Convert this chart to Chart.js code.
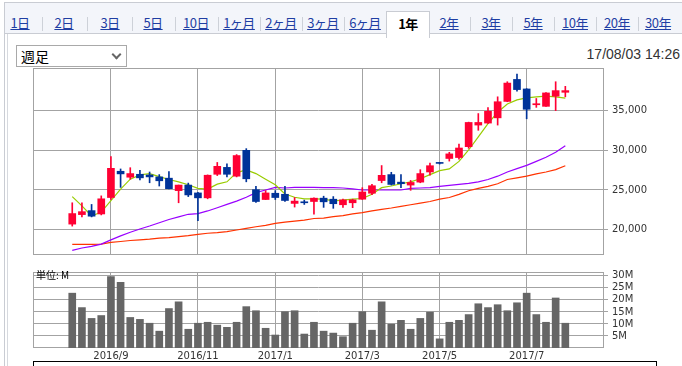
<!DOCTYPE html>
<html><head><meta charset="utf-8">
<script src="https://cdn.jsdelivr.net/npm/chart.js@4.4.1/dist/chart.umd.min.js"></script>
<style>
html,body{margin:0;padding:0;width:682px;height:366px;overflow:hidden;background:#fff;font-family:"Liberation Sans",Arial,sans-serif;}
#frame{position:absolute;left:4px;top:2px;width:700px;height:400px;border-left:1px solid #c9ccd3;border-top:1px solid #c9ccd3;}
#inner{position:absolute;left:7px;top:34px;width:2px;height:340px;border-left:1px solid #d6d9de;}
#tabbar{position:absolute;left:5px;top:3px;width:680px;height:30px;background:#f3f5fa;border-bottom:1px solid #c9ccd3;}
.tab{position:absolute;top:8px;height:25px;width:42px;text-align:center;line-height:24px;font-family:"Noto Sans CJK JP",sans-serif;font-size:13px;color:#1f3ea3;text-decoration:underline;letter-spacing:-0.5px;}
.sep{position:absolute;top:14px;height:14px;width:1px;background:#cdd1d8;}
.tab.active{background:#fff;border:1px solid #c9ccd3;border-bottom:none;height:26px;color:#000;font-weight:bold;text-decoration:none;}
#sel{position:absolute;left:16px;top:45px;width:109px;height:20px;border:1px solid #a9a9a9;background:#fff;font-family:"Noto Sans CJK JP",sans-serif;font-size:14px;line-height:20px;color:#000;}
#sel span{position:absolute;left:4px;top:0;}
#chev{position:absolute;right:6px;top:5px;width:5px;height:5px;border-right:2px solid #666;border-bottom:2px solid #666;transform:rotate(45deg);}
#stamp{position:absolute;right:2px;top:45px;font-size:14px;color:#333;line-height:18px;}
#unit{position:absolute;left:36px;top:268px;font-family:"Noto Sans CJK JP",sans-serif;font-size:10px;color:#000;line-height:14px;}
#legbox{position:absolute;left:33px;top:361px;width:622px;height:30px;border:1px solid #000;}
canvas{position:absolute;left:0;}
#main{top:58px;}
#vol{top:262px;}
</style></head>
<body>
<div id="frame"></div>
<div id="tabbar"></div>
<div id="inner"></div>
<div id="sel"><span>週足</span><div id="chev"></div></div>
<div id="stamp">17/08/03 14:26</div>
<canvas id="main" width="682" height="207"></canvas>
<canvas id="vol" width="682" height="104"></canvas>
<div id="unit">単位: M</div>
<div id="legbox"></div>
<script>
// ---- data ----
const periodTabs = ['1日','2日','3日','5日','10日','1ヶ月','2ヶ月','3ヶ月','6ヶ月','1年','2年','3年','5年','10年','20年','30年'];
const activeTab = '1年';
const weeks = ['2016/8/8','2016/8/15','2016/8/22','2016/8/29','2016/9/5','2016/9/12','2016/9/19','2016/9/26','2016/10/3','2016/10/10','2016/10/17','2016/10/24','2016/10/31','2016/11/7','2016/11/14','2016/11/21','2016/11/28','2016/12/5','2016/12/12','2016/12/19','2016/12/26','2017/1/2','2017/1/9','2017/1/16','2017/1/23','2017/1/30','2017/2/6','2017/2/13','2017/2/20','2017/2/27','2017/3/6','2017/3/13','2017/3/20','2017/3/27','2017/4/3','2017/4/10','2017/4/17','2017/4/24','2017/5/1','2017/5/8','2017/5/15','2017/5/22','2017/5/29','2017/6/5','2017/6/12','2017/6/19','2017/6/26','2017/7/3','2017/7/10','2017/7/17','2017/7/24','2017/7/31'];
const open  = [20700,21900,22400,21980,24050,27360,26610,26980,26900,26650,26490,24920,25620,24630,24010,26980,27850,26740,30000,25040,23800,24590,24460,23310,23470,23550,23970,23840,23140,23390,23840,24590,26190,26940,25990,25620,25990,27270,28430,28970,29090,30460,33180,33430,34090,36160,38930,37730,35740,35540,36820,37310];
const high  = [23390,23390,23180,24260,29220,27650,27810,27480,27270,26940,27320,25620,25870,24710,26900,28470,28310,29460,30210,25460,24920,24920,25460,24050,23720,24010,24220,24170,23840,23840,25290,25700,28080,27230,26940,26200,27560,28390,28470,29750,30790,33550,34630,35370,36740,38640,39590,37770,36530,37270,38640,38060];
const low   = [20450,21610,21610,21860,23800,25330,26360,26280,25910,25500,25120,23390,24170,21120,23890,26820,26650,26650,26030,23430,23800,23800,23550,22850,23180,21940,22810,22690,22810,22770,23800,24420,25910,25620,25290,24960,25910,26860,28270,28640,28890,30250,32520,33390,33180,36120,37440,33970,35410,35540,35000,36740];
const close = [22030,22270,21700,23890,27730,27030,27070,26530,26650,26160,25170,25620,24380,24010,26860,27980,26980,29340,26410,23550,24630,24050,23680,23600,23390,23970,23510,23270,23760,23760,24750,25540,26850,25700,25790,25950,27070,28060,28350,29550,30290,33510,33510,34920,36120,38470,37650,35170,35870,37230,37520,37520];
const ma13 = [24170,23000,21720,22220,23660,25120,26360,26900,27070,26690,26320,26030,25660,25210,25120,25740,26030,27190,27520,27070,26360,25660,24500,24090,23890,23890,23840,23640,23720,23840,23930,24460,25290,25500,25790,26030,26410,26940,27440,27650,28600,30040,31690,33350,34790,35830,36360,36610,36740,36820,36740,36570];
const ma26 = [17400,17690,17890,18180,18720,19220,19670,20080,20460,20870,21280,21610,21940,22030,22360,22770,23180,23600,24090,24670,25000,25330,25250,25330,25330,25330,25290,25290,25250,25150,25000,25000,25000,25000,25000,25200,25250,25300,25450,25580,25700,25830,26030,26320,26740,27270,27690,28100,28600,29130,29750,30580];
const ma52 = [18150,18150,18150,18180,18390,18510,18640,18720,18800,18930,19010,19130,19260,19420,19550,19630,19750,19960,20170,20370,20540,20790,20950,21080,21200,21410,21450,21650,21780,21980,22150,22360,22560,22730,22930,23140,23350,23550,23840,24050,24450,24900,25210,25460,25790,26320,26530,26740,27030,27270,27560,28060];
const volumeM = [22.8,16.8,12.3,13.5,29.7,27.3,12.7,11.9,10.3,7.0,16.4,19.2,7.8,10.3,10.7,9.5,8.6,10.7,17.2,15.5,8.2,5.4,15.1,15.5,5.8,10.7,7.0,6.2,4.7,10.3,15.1,7.4,19.2,9.9,11.5,7.8,12.3,14.9,3.8,10.7,11.5,13.9,18.4,16.8,18.0,15.5,18.8,22.8,13.9,10.7,20.8,10.3];
const monthTickIndex = [4,13,21,30,38,47];
const monthTickLabels = ['2016/9','2016/11','2017/1','2017/3','2017/5','2017/7'];
const priceTicks = [20000,25000,30000,35000];
const volumeTicks = [5,10,15,20,25,30];

// ---- tabs ----
const tabCenters = [20,64,110,153,196,239,281,323,365,407,449,491,533,575,617,658];
const bar = document.getElementById('tabbar');
periodTabs.forEach((t,i)=>{
  const d=document.createElement('div');
  d.className='tab'+(t===activeTab?' active':'');
  d.style.left=(tabCenters[i]-5-21)+'px';
  d.textContent=t;
  bar.appendChild(d);
  if(i>0 && t!==activeTab && periodTabs[i-1]!==activeTab){
    const s=document.createElement('div');s.className='sep';s.style.left=Math.round((tabCenters[i]+tabCenters[i-1])/2-5)+'px';bar.appendChild(s);
  }
});

// ---- charts ----
const UP='#ff0033', DOWN='#003399', GRID='#a3a3a3';
const frameRect={id:'frameRect',beforeDatasetsDraw(c){const a=c.chartArea,x=c.ctx;x.save();x.strokeStyle=GRID;x.lineWidth=1;x.strokeRect(Math.round(a.left)+0.5,Math.round(a.top)+0.5,Math.round(a.right-a.left)-1,Math.round(a.bottom-a.top)-1);x.restore();}};
const idx = weeks.map((w,i)=>i);
const candleColor = ctx => { const i=ctx.dataIndex; return close[i]>=open[i]?UP:DOWN; };
const xScale = (showLabels,h)=>({type:'linear',min:-4.06,max:55.0,offset:false,
  afterBuildTicks(s){s.ticks=monthTickIndex.map(v=>({value:v}));},
  afterFit(s){s.height=h;},
  grid:{color:GRID,drawTicks:false,lineWidth:1,offset:false},border:{display:false},
  ticks:{display:showLabels,autoSkip:false,maxRotation:0,padding:2,color:'#333',font:{family:'DejaVu Sans',size:10},
    callback:(v)=>{const k=monthTickIndex.indexOf(v);return k>=0?monthTickLabels[k]:'';}}});

new Chart(document.getElementById('main'),{
  type:'bar',
  data:{datasets:[
    {type:'line',label:'13週',data:idx.map(i=>({x:i,y:ma13[i]})),borderColor:'#99cc00',borderWidth:1.2,pointRadius:0,order:5},
    {type:'line',label:'26週',data:idx.map(i=>({x:i,y:ma26[i]})),borderColor:'#9900ff',borderWidth:1.2,pointRadius:0,order:6},
    {type:'line',label:'52週',data:idx.map(i=>({x:i,y:ma52[i]})),borderColor:'#ff3300',borderWidth:1.2,pointRadius:0,order:7},
    {label:'wick',data:idx.map(i=>({x:i,y:[low[i],high[i]]})),backgroundColor:candleColor,barThickness:1,grouped:false,order:2},
    {label:'body',data:idx.map(i=>({x:i,y:[open[i],close[i]]})),backgroundColor:candleColor,barThickness:7,minBarLength:1,grouped:false,order:1}
  ]},
  options:{responsive:false,animation:false,devicePixelRatio:1,
    layout:{padding:{left:33,top:9,bottom:8,right:0}},
    plugins:{legend:{display:false},tooltip:{enabled:false}},
    scales:{
      x:xScale(false,0),
      y:{type:'linear',position:'right',min:16810,max:40370,
        afterBuildTicks(s){s.ticks=priceTicks.map(v=>({value:v}));},
        afterFit(s){s.width=78;},
        grid:{color:GRID,tickLength:4},border:{display:false},
        ticks:{padding:4,color:'#333',font:{family:'DejaVu Sans',size:10},callback:v=>v.toLocaleString('en-US')}}
    }},
  plugins:[frameRect]
});

new Chart(document.getElementById('vol'),{
  type:'bar',
  data:{datasets:[{label:'出来高',data:idx.map(i=>({x:i,y:volumeM[i]})),backgroundColor:'#666666',barThickness:7}]},
  options:{responsive:false,animation:false,devicePixelRatio:1,
    layout:{padding:{left:33,top:6,bottom:0,right:0}},
    plugins:{legend:{display:false},tooltip:{enabled:false}},
    scales:{
      x:xScale(true,18),
      y:{type:'linear',position:'right',min:0,max:31.6,
        afterBuildTicks(s){s.ticks=volumeTicks.map(v=>({value:v}));},
        afterFit(s){s.width=78;},
        grid:{color:GRID,tickLength:4},border:{display:false},
        ticks:{padding:4,color:'#333',font:{family:'DejaVu Sans',size:10},callback:v=>v+'M'}}
    }},
  plugins:[frameRect]
});
</script>
</body></html>
